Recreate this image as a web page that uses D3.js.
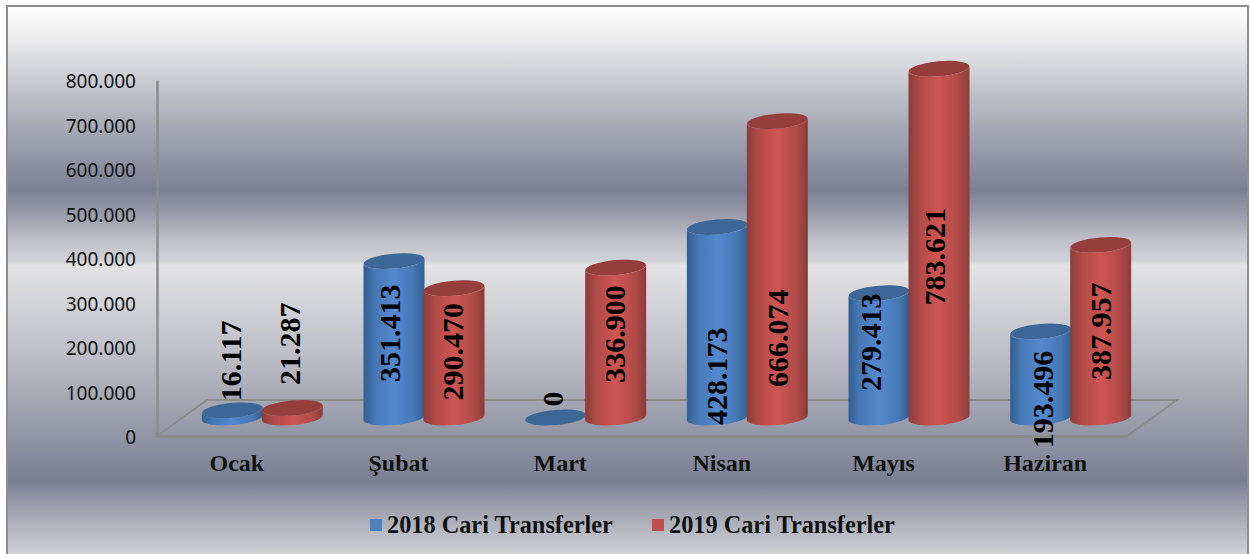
<!DOCTYPE html>
<html>
<head>
<meta charset="utf-8">
<script src="https://cdn.jsdelivr.net/npm/d3@7"></script>
<style>
html, body { margin: 0; padding: 0; background: #fff; }
svg { display: block; }
</style>
</head>
<body>
<div id="chart"></div>
<script>
"use strict"
// Values
var months = ["Ocak", "Şubat", "Mart", "Nisan", "Mayıs", "Haziran"]
var series2018 = [16117, 351413, 0, 428173, 279413, 193496]
var series2019 = [21287, 290470, 336900, 666074, 783621, 387957]
var seriesNames = ["2018 Cari Transferler", "2019 Cari Transferler"]
var yTicks = [0, 100000, 200000, 300000, 400000, 500000, 600000, 700000, 800000]

// Labels were dragged by hand in the original, so each one has its own nudge from the bar middle
var nudge2018 = [[-2, -53], [-5, -6], [-3, -18.5], [-1, 54], [-9, -13], [1.5, 25]]
var nudge2019 = [[-3, -69], [-2, -1], [-1, -8.5], [0.5, 69], [-5, 13.5], [0, 0]]

var width = 1250
var height = 554
var x0 = 157, x1 = 1127 // front edge of the floor
var yBottom = 436, yTop = 80
var depthX = 50, depthY = 36 // floor offset for the fake 3d
var rx = 30.5, ry = 7.5, tilt = -5

var svg = d3.select("#chart").append("svg").attr("width", width).attr("height", height)
var defs = svg.append("defs")

var bg = defs.append("linearGradient").attr("id", "bg").attr("x1", 0).attr("y1", 0).attr("x2", 0).attr("y2", 1)
var bgStops = [[0, "#ffffff"], [0.062, "#ebebec"], [0.17, "#babcc5"], [0.333, "#7c8094"], [0.379, "#9a9cab"], [0.424, "#c0c1c9"], [0.46, "#d0d1d6"], [0.47, "#e3e3e4"],
    [0.623, "#bfc0c8"], [0.75, "#9a9dab"], [0.859, "#7b7f93"], [0.913, "#a0a2b0"], [0.993, "#d0d1d6"], [1, "#d0d1d6"]]
bgStops.forEach(function (s) {
    bg.append("stop").attr("offset", s[0]).attr("stop-color", s[1])
})

function cylGradient(id, edge, side, mid) {
    var g = defs.append("linearGradient").attr("id", id).attr("x1", 0).attr("y1", 0).attr("x2", 1).attr("y2", 0)
    g.append("stop").attr("offset", 0).attr("stop-color", edge)
    g.append("stop").attr("offset", 0.18).attr("stop-color", side)
    g.append("stop").attr("offset", 0.5).attr("stop-color", mid)
    g.append("stop").attr("offset", 0.82).attr("stop-color", side)
    g.append("stop").attr("offset", 1).attr("stop-color", edge)
}
cylGradient("blueBody", "#335f90", "#4678b5", "#5489cf")
cylGradient("redBody", "#8a3c3a", "#b04a48", "#ce5553")

svg.append("rect").attr("x", 7).attr("y", 6).attr("width", 1241).attr("height", 552)
    .attr("fill", "url(#bg)").attr("stroke", "#8e8e8e").attr("stroke-width", 2)

var xScale = d3.scaleBand().domain(months).range([x0, x1])
var yScale = d3.scaleLinear().domain([0, 800000]).range([yBottom, yTop])

var yAxis = d3.axisLeft(yScale).tickValues(yTicks).tickSize(0).tickPadding(21)
    .tickFormat(function (d) { return d3.format(",")(d).replace(/,/g, ".") })
var yG = svg.append("g").attr("transform", "translate(" + x0 + ",0)").call(yAxis)
yG.select(".domain").attr("stroke", "#8c8c8c").attr("stroke-width", 2.5)
yG.selectAll("text").attr("font-family", "'Noto Sans'").attr("font-size", 19).attr("fill", "#111").attr("dy", "0.42em")

// floor
var floorPath = d3.path()
floorPath.moveTo(x0, yBottom)
floorPath.lineTo(x0 + depthX, yBottom - depthY)
floorPath.lineTo(x1 + depthX, yBottom - depthY)
floorPath.lineTo(x1, yBottom)
floorPath.closePath()
svg.append("path").attr("d", floorPath.toString()).attr("fill", "none")
    .attr("stroke", "#8c8c8c").attr("stroke-width", 2)

// category labels
var xAxis = d3.axisBottom(xScale).tickSize(0).tickPadding(18)
var xG = svg.append("g").attr("transform", "translate(-1," + yBottom + ")").call(xAxis)
xG.select(".domain").attr("stroke", "#8c8c8c").attr("stroke-width", 3).attr("transform", "translate(1,0)")
xG.selectAll("text").attr("font-family", "'Liberation Serif'").attr("font-weight", "bold")
    .attr("font-size", 24).attr("fill", "#111")

// cylinders, centre sits half a floor depth back and half a bar either side
var baseY = yBottom - 18.5
function barH(v) { return yBottom - yScale(v) }
function cx(month, side) { return xScale(month) + xScale.bandwidth() / 2 + depthX / 2 + side * 30 - 0.5 }

function drawBars(values, side, bodyFill, topFill) {
    var g = svg.append("g")
    months.forEach(function (m, i) {
        var c = cx(m, side)
        var h = barH(values[i])
        var t = Math.tan(tilt * Math.PI / 180) * rx
        var a = "A" + rx + "," + ry + " " + tilt + " 0 "
        var topY = baseY - h
        var body = "M" + (c - rx) + "," + (topY - t) +
            "L" + (c - rx) + "," + (baseY - t) +
            a + "0 " + (c + rx) + "," + (baseY + t) +
            "L" + (c + rx) + "," + (topY + t) +
            a + "1 " + (c - rx) + "," + (topY - t) + "Z"
        if (h > 0) g.append("path").attr("d", body).attr("fill", bodyFill)
        g.append("ellipse").attr("cx", c).attr("cy", topY).attr("rx", rx).attr("ry", ry)
            .attr("transform", "rotate(" + tilt + " " + c + " " + topY + ")")
            .attr("fill", topFill)
    })
}
drawBars(series2018, -1, "url(#blueBody)", "#3d6796")
drawBars(series2019, 1, "url(#redBody)", "#953e3c")

function drawLabels(values, side, nudges) {
    months.forEach(function (m, i) {
        var lx = cx(m, side) + nudges[i][0]
        var ly = baseY - barH(values[i]) / 2 + nudges[i][1]
        svg.append("text")
            .attr("transform", "translate(" + lx + "," + ly + ") rotate(-90)")
            .attr("text-anchor", "middle").attr("dominant-baseline", "central")
            .attr("font-family", "'Liberation Serif'").attr("font-weight", "bold")
            .attr("font-size", 30).attr("fill", "#000")
            .text(d3.format(",")(values[i]).replace(/,/g, "."))
    })
}
drawLabels(series2018, -1, nudge2018)
drawLabels(series2019, 1, nudge2019)

// legend
var legendX = [370, 652]
var legendColors = ["#4f81bd", "#c0504d"]
seriesNames.forEach(function (name, i) {
    svg.append("rect").attr("x", legendX[i]).attr("y", 519).attr("width", 12).attr("height", 12).attr("fill", legendColors[i])
    svg.append("text").attr("x", legendX[i] + 17).attr("y", 533)
        .attr("font-family", "'Liberation Serif'").attr("font-weight", "bold")
        .attr("font-size", 24.3).attr("fill", "#111").text(name)
})
</script>
</body>
</html>
